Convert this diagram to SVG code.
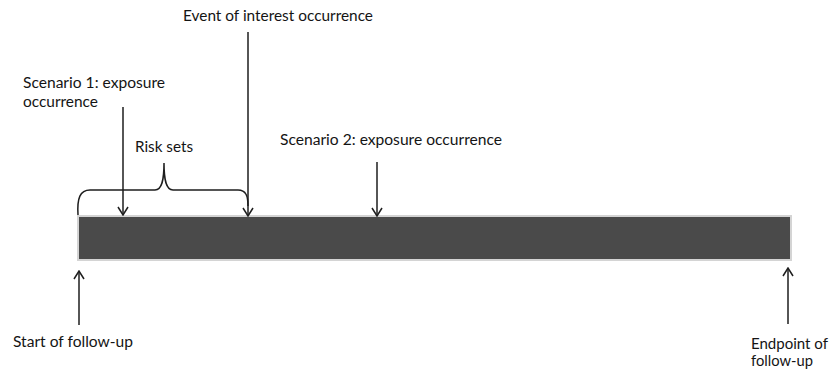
<svg xmlns="http://www.w3.org/2000/svg" width="832" height="371" viewBox="0 0 832 371">
<defs>
<marker id="open" viewBox="0 0 10 12" refX="9" refY="6" markerWidth="10" markerHeight="12" markerUnits="userSpaceOnUse" orient="auto-start-reverse">
<path d="M1,1 L9,6 L1,11" fill="none" stroke="#1e1e1e" stroke-width="1.5"/>
</marker>
<style>
.t{font-family:Lato,"Liberation Sans",Arial,sans-serif;font-size:15.5px;fill:#141414}
.a{stroke:#1e1e1e;stroke-width:1.5;fill:none}
</style>
</defs>
<rect width="832" height="371" fill="#ffffff"/>
<g id="timeline">
<rect x="78" y="216" width="713" height="44" fill="#4a4a4a" stroke="#d4d4d4" stroke-width="2"/>
</g>
<g id="connectors">
<line class="a" x1="123" y1="107" x2="123" y2="215" marker-end="url(#open)"/>
<line class="a" x1="248" y1="32" x2="248" y2="216" marker-end="url(#open)"/>
<line class="a" x1="377" y1="162" x2="377" y2="216" marker-end="url(#open)"/>
<line class="a" x1="79" y1="325" x2="79" y2="271" marker-end="url(#open)"/>
<line class="a" x1="788" y1="324" x2="788" y2="268" marker-end="url(#open)"/>
<path class="a" d="M78,215 C77,198 80,190 90,190 L155,190 C162,190 164,180 164,163 C164,180 166,190 173,190 L238,190 C246,190 248,196 248,206"/>
</g>
<g id="label-event"><text class="t" x="183" y="21" textLength="190" lengthAdjust="spacingAndGlyphs">Event of interest occurrence</text></g>
<g id="label-scenario1"><text class="t" x="23" y="88" textLength="142" lengthAdjust="spacingAndGlyphs">Scenario 1: exposure</text><text class="t" x="23" y="107" textLength="75" lengthAdjust="spacingAndGlyphs">occurrence</text></g>
<g id="label-risk"><text class="t" x="135" y="152" textLength="58" lengthAdjust="spacingAndGlyphs">Risk sets</text></g>
<g id="label-scenario2"><text class="t" x="280" y="145" textLength="222" lengthAdjust="spacingAndGlyphs">Scenario 2: exposure occurrence</text></g>
<g id="label-start"><text class="t" x="13" y="347" textLength="120" lengthAdjust="spacingAndGlyphs">Start of follow-up</text></g>
<g id="label-end"><text class="t" x="751" y="349" textLength="77" lengthAdjust="spacingAndGlyphs">Endpoint of</text><text class="t" x="751" y="366" textLength="62" lengthAdjust="spacingAndGlyphs">follow-up</text></g>
</svg>
